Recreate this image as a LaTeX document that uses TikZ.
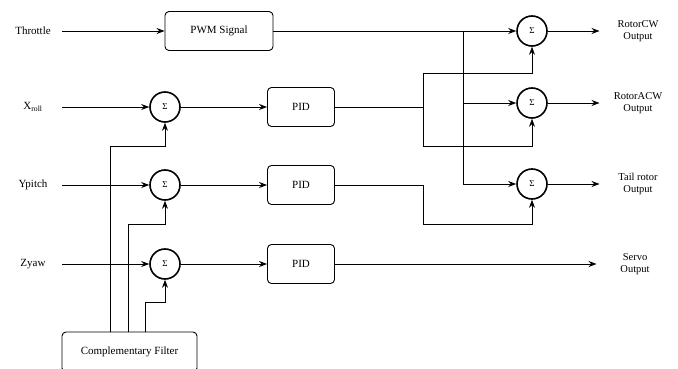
\documentclass[tikz,border=0pt]{standalone}
\usepackage{fontspec}
\newfontfamily\tms{Liberation Serif}
\usetikzlibrary{arrows.meta}
\begin{document}
\begin{tikzpicture}[x=1pt, y=-1pt, line width=0.9pt, >={Stealth[length=8pt,width=6pt]},
  font=\tms\fontsize{11}{12}\selectfont,
  blk/.style={draw, rounded corners=4pt, minimum width=67pt, minimum height=39pt, inner sep=0pt},
  sumnode/.style={circle, draw, line width=1.6pt, minimum size=30pt, inner sep=0pt, font=\tms\fontsize{9}{9}\selectfont},
  inp/.style={minimum width=58pt, inner sep=0pt},
  outp/.style={minimum width=76pt, inner sep=0pt, align=center, font=\tms\fontsize{10.5}{12}\selectfont}]
  \useasboundingbox (0,0) rectangle (678,369);
  % inputs
  \node[inp] (thr) at (33,31) {Throttle};
  \node[inp] (xr) at (33,107) {X\textsubscript{roll}};
  \node[inp] (yp) at (33,185) {Ypitch};
  \node[inp] (zy) at (33,264) {Zyaw};
  % blocks
  \node[blk, minimum width=108pt] (pwm) at (219,31) {PWM Signal};
  \node[sumnode] (sa) at (165,107) {Σ};
  \node[sumnode] (sb) at (165,185) {Σ};
  \node[sumnode] (sc) at (165,264) {Σ};
  \node[blk] (pid1) at (301,107) {PID};
  \node[blk] (pid2) at (301,185) {PID};
  \node[blk] (pid3) at (301,264) {PID};
  \node[blk, minimum width=135pt, minimum height=40pt] (cf) at (129.5,352) {Complementary Filter};
  \node[sumnode] (s1) at (532,31) {Σ};
  \node[sumnode] (s2) at (532,103) {Σ};
  \node[sumnode] (s3) at (532,184) {Σ};
  % outputs
  \node[outp] (o1) at (638,31) {RotorCW\\Output};
  \node[outp] (o2) at (638,103) {RotorACW\\Output};
  \node[outp] (o3) at (638,184) {Tail rotor\\Output};
  \node[outp] (o4) at (635,264) {Servo\\Output};
  % left part
  \draw[->] (thr) -- (pwm);
  \draw[->] (xr) -- (sa);
  \draw[->] (yp) -- (sb);
  \draw[->] (zy) -- (sc);
  \draw[->] (sa) -- (pid1);
  \draw[->] (sb) -- (pid2);
  \draw[->] (sc) -- (pid3);
  \draw[->] (cf.north -| 110,0) |- (165,146) -- (sa.south);
  \draw[->] (cf.north -| 128,0) |- (165,224) -- (sb.south);
  \draw[->] (cf.north -| 145,0) |- (165,302) -- (sc.south);
  % right part
  \coordinate (j1) at (463,31);
  \coordinate (j2) at (423,107);
  \draw[->] (pwm) -- (s1);
  \draw[->] (j1) |- (s3.west);
  \draw[->] (j1 |- s2) -- (s2);
  \draw (pid1) -- (j2);
  \draw[->] (j2) |- (532,73) -- (s1.south);
  \draw[->] (j2) |- (532,146) -- (s2.south);
  \draw[->] (pid2) -| (423,224) -| (s3.south);
  \draw[->] (pid3) -- (o4);
  \draw[->] (s1) -- (o1);
  \draw[->] (s2) -- (o2);
  \draw[->] (s3) -- (o3);
\end{tikzpicture}
\end{document}
